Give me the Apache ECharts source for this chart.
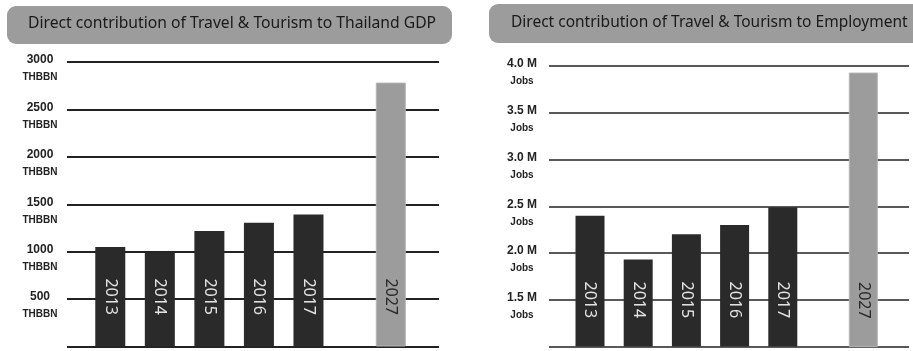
<!DOCTYPE html>
<html>
<head>
<meta charset="utf-8">
<script src="https://cdn.jsdelivr.net/npm/echarts@6/dist/echarts.min.js"></script>
<style>
html,body{margin:0;padding:0;background:#fff;}
#chart{width:913px;height:351px;}
</style>
</head>
<body>
<div id="chart"></div>
<script>
// ---- data ----
const years = ['2013', '2014', '2015', '2016', '2017'];
const forecastYear = ['2027'];
const gdpValues = [1050, 995, 1217, 1305, 1392];      // THB bn
const gdpForecast = [2783];
const jobsValues = [2.40, 1.93, 2.20, 2.30, 2.49];    // million jobs
const jobsForecast = [3.93];
const gdpTitle = 'Direct contribution of Travel & Tourism to Thailand GDP';
const jobsTitle = 'Direct contribution of Travel & Tourism to Employment';
const gdpUnit = 'THBBN';
const jobsUnit = 'Jobs';

// ---- styles ----
const DARK = '#2a2a2a';
const LIGHT = '#9c9c9c';
const LINE = '#222';

const chart = echarts.init(document.getElementById('chart'), null, {renderer: 'canvas'});

const gdpAxis = {min: 0, max: 3000, interval: 500};
const jobsAxis = {min: 1.0, max: 4.0, interval: 0.5};

const L = {top: 62, height: 284.5};
const R = {top: 66, height: 280.6};

const grids = [
  {left: 67, width: 372, top: L.top, height: L.height},
  {left: 85.5, width: 247.75, top: L.top, height: L.height},
  {left: 366, width: 49.6, top: L.top, height: L.height},
  {left: 549, width: 360, top: R.top, height: R.height},
  {left: 565.9, width: 241, top: R.top, height: R.height},
  {left: 839.2, width: 48.2, top: R.top, height: R.height}
];

function mainY(ax, gridIndex, lineWidth, fmt) {
  return {
    type: 'value', gridIndex: gridIndex, min: ax.min, max: ax.max, interval: ax.interval,
    axisLine: {show: false}, axisTick: {show: false},
    splitLine: {show: true, lineStyle: {color: LINE, width: lineWidth}},
    axisLabel: {
      show: true, showMinLabel: false, align: 'center', margin: 27,
      verticalAlign: 'middle', padding: [13.5, 0, 0, 0],
      formatter: fmt,
      rich: {
        a: {fontFamily: 'Liberation Sans', fontWeight: 'bold', fontSize: 12, color: '#222', lineHeight: 17.5, align: 'center'},
        b: {fontFamily: 'Liberation Sans', fontWeight: 'bold', fontSize: 10, color: '#222', lineHeight: 17.5, align: 'center'}
      }
    }
  };
}
function hiddenY(ax, gridIndex) {
  return {type: 'value', gridIndex: gridIndex, min: ax.min, max: ax.max, interval: ax.interval, show: false, splitLine: {show: false}};
}
function hiddenX(data, gridIndex) {
  return {type: 'category', gridIndex: gridIndex, data: data, show: false, boundaryGap: true};
}
function barSeries(data, idx, color, labelColor, barWidth, distance, border) {
  return {
    type: 'bar', xAxisIndex: idx, yAxisIndex: idx, data: data, barWidth: barWidth,
    itemStyle: {color: color, borderColor: border || color, borderWidth: border ? 1 : 0},
    label: {
      show: true, position: 'insideBottom', distance: distance, rotate: -90,
      align: 'right', verticalAlign: 'middle', formatter: '{b}',
      color: labelColor, fontFamily: 'Noto Sans', fontSize: 16
    },
    silent: true, animation: false
  };
}

const option = {
  animation: false,
  backgroundColor: '#fff',
  grid: grids,
  xAxis: [
    hiddenX([''], 0), hiddenX(years, 1), hiddenX(forecastYear, 2),
    hiddenX([''], 3), hiddenX(years, 4), hiddenX(forecastYear, 5)
  ],
  yAxis: [
    mainY(gdpAxis, 0, 2, v => '{a|' + v + '}\n{b|' + gdpUnit + '}'),
    hiddenY(gdpAxis, 1), hiddenY(gdpAxis, 2),
    mainY(jobsAxis, 3, 1.5, v => '{a|' + v.toFixed(1) + ' M}\n{b|' + jobsUnit + '}'),
    hiddenY(jobsAxis, 4), hiddenY(jobsAxis, 5)
  ],
  series: [
    barSeries(gdpValues, 1, DARK, '#e2e2e2', 30, 31.5),
    barSeries(gdpForecast, 2, LIGHT, '#2a2a2a', 30, 31.5, '#b5b5b5'),
    barSeries(jobsValues, 4, DARK, '#e2e2e2', 29, 28.5),
    barSeries(jobsForecast, 5, LIGHT, '#2a2a2a', 29, 28.5, '#b5b5b5')
  ],
  graphic: [
    {type: 'rect', left: 7, top: 6, shape: {width: 445, height: 38, r: 9}, style: {fill: '#9c9c9c'}, z: 10},
    {type: 'text', left: 28, top: 15.5, style: {text: gdpTitle, fill: '#1a1a1a', font: '15.7px "Noto Sans"'}, z: 11},
    {type: 'rect', left: 489, top: 4, shape: {width: 440, height: 39, r: 9}, style: {fill: '#9c9c9c'}, z: 10},
    {type: 'text', left: 511, top: 14.5, style: {text: jobsTitle, fill: '#1a1a1a', font: '15.5px "Noto Sans"'}, z: 11}
  ]
};
chart.setOption(option);
</script>
</body>
</html>
